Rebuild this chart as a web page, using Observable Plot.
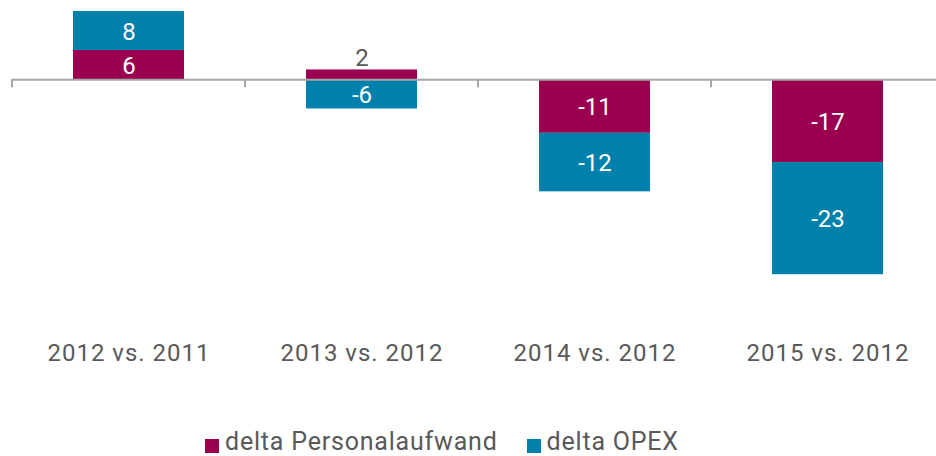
<!DOCTYPE html>
<html>
<head>
<meta charset="utf-8">
<script src="https://cdn.jsdelivr.net/npm/d3@7"></script>
<script src="https://cdn.jsdelivr.net/npm/@observablehq/plot@0.6"></script>
<style>
  html, body { margin: 0; padding: 0; background: #fff; }
  #chart { width: 936px; height: 456px; position: relative; overflow: hidden; font-family: Roboto, "Noto Sans", sans-serif; }
  #legend { position: absolute; left: 205px; top: 427px; display: flex; align-items: center; height: 29px; font-size: 25px; line-height: 29px; letter-spacing: 0.8px; color: #595959; white-space: nowrap; }
  .item { display: flex; align-items: center; margin-right: 29px; }
  .sw { width: 14px; height: 14px; margin-right: 6px; position: relative; top: 4px; }
  .catlabel text { letter-spacing: 1px; }
</style>
</head>
<body>
<div id="chart"></div>
<script>
const categories = ["2012 vs. 2011", "2013 vs. 2012", "2014 vs. 2012", "2015 vs. 2012"];
const seriesNames = ["delta Personalaufwand", "delta OPEX"];
const personal = [6, 2, -11, -17];
const opex = [8, -6, -12, -23];
const colors = ["#9B0050", "#0081AB"];

const data = categories.flatMap((c, i) => [
  {cat: c, series: seriesNames[0], value: personal[i]},
  {cat: c, series: seriesNames[1], value: opex[i]}
]);

const W = 936, H = 400, plotBottom = 340;

const chart = Plot.plot({
  width: W,
  height: H,
  marginLeft: 12,
  marginRight: 0,
  marginTop: 0,
  marginBottom: H - plotBottom,
  style: {fontFamily: "Roboto, 'Noto Sans', sans-serif", background: "white"},
  x: {domain: categories, range: [12, 944], paddingInner: 0.524, paddingOuter: 0.262, axis: null},
  y: {domain: [-53.5, 16.25], range: [plotBottom, 0], axis: null},
  color: {domain: seriesNames, range: colors},
  marks: [
    Plot.barY(data, {x: "cat", y: "value", fill: "series", z: "series"}),
    Plot.ruleY([0], {stroke: "#A6A6A6", strokeWidth: 2}),
    Plot.text(data, Plot.stackY({
      x: "cat", y: "value", z: "series",
      text: d => Math.abs(d.value) >= 3 ? String(d.value) : "",
      fill: "white", fontSize: 24, dy: 1
    })),
    Plot.text(data, Plot.stackY2({
      x: "cat", y: "value", z: "series",
      text: d => Math.abs(d.value) < 3 ? String(d.value) : "",
      fill: "#595959", fontSize: 24, dy: -12
    })),
    Plot.text(categories, {x: d => d, frameAnchor: "bottom", dy: 20, fill: "#595959", fontSize: 24, className: "catlabel"})
  ]
});

// band-boundary tick marks on the zero axis, derived from the scales
const xs = chart.scale("x");
const ys = chart.scale("y");
const step = xs.step ?? xs.bandwidth / (1 - xs.paddingInner);
const y0 = ys.apply(0);
const bounds = categories.map(c => xs.apply(c) - (step - xs.bandwidth) / 2);
d3.select(chart).append("g")
  .selectAll("line").data(bounds).join("line")
  .attr("x1", d => d).attr("x2", d => d)
  .attr("y1", y0).attr("y2", y0 + 8)
  .attr("stroke", "#A6A6A6").attr("stroke-width", 2);

const root = document.getElementById("chart");
root.appendChild(chart);

const legend = document.createElement("div");
legend.id = "legend";
seriesNames.forEach((s, i) => {
  const it = document.createElement("div");
  it.className = "item";
  const sw = document.createElement("div");
  sw.className = "sw";
  sw.style.background = colors[i];
  const t = document.createElement("span");
  t.textContent = s;
  it.appendChild(sw); it.appendChild(t);
  legend.appendChild(it);
});
root.appendChild(legend);
</script>
</body>
</html>
